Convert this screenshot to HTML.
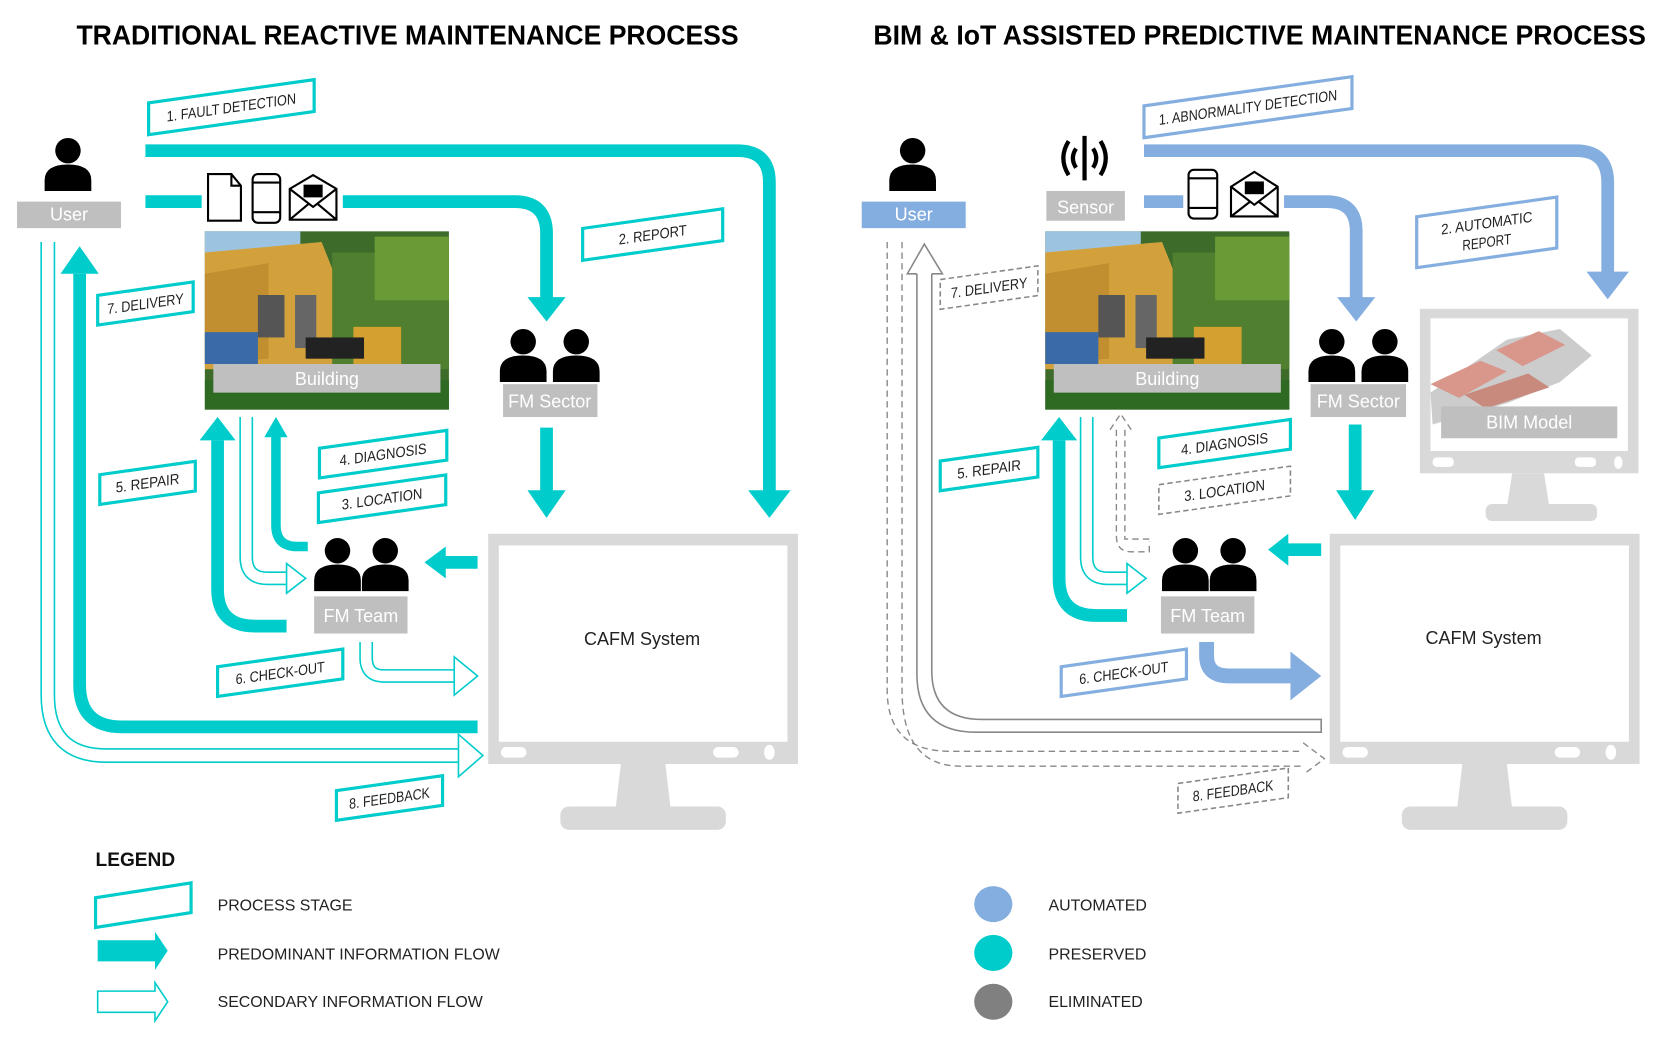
<!DOCTYPE html>
<html><head><meta charset="utf-8"><style>
html,body{margin:0;padding:0;background:#fff;}
svg{display:block;}
.t{font-family:"Liberation Sans",sans-serif;}
.lb{font-family:"Liberation Sans Narrow","Liberation Sans",sans-serif;font-size:14px;fill:#222;text-anchor:middle;}
.gl{font-family:"Liberation Sans",sans-serif;font-size:17px;fill:#fff;text-anchor:middle;}
</style></head><body>
<svg width="1664" height="1041" viewBox="0 0 1568 981" xmlns="http://www.w3.org/2000/svg">
<defs>
<g id="person"><circle cx="0" cy="0" r="12"/><path d="M-22,38 V28 Q-22,13 0,13 Q22,13 22,28 V38 Z"/></g>
<g id="photo">
<rect x="0" y="0" width="230" height="168" fill="#3d6b2a"/>
<rect x="0" y="0" width="90" height="40" fill="#9cc3e0"/>
<polygon points="0,20 110,10 130,60 140,130 0,130" fill="#d3a13c"/>
<polygon points="0,40 60,30 60,120 0,125" fill="#c18e30"/>
<rect x="50" y="60" width="25" height="40" fill="#555"/>
<rect x="85" y="60" width="20" height="50" fill="#666"/>
<rect x="120" y="20" width="110" height="110" fill="#4f7f2f"/>
<rect x="160" y="5" width="70" height="60" fill="#6a9a35"/>
<rect x="140" y="90" width="45" height="50" fill="#d4a030"/>
<rect x="95" y="100" width="55" height="20" fill="#222"/>
<rect x="0" y="95" width="50" height="30" fill="#3b6aa8"/>
<rect x="0" y="140" width="230" height="28" fill="#2f6a22"/>
</g>
<g id="monitor">
<rect x="0" y="0" width="292" height="217" fill="#d9d9d9"/>
<rect x="10" y="11" width="272" height="185" fill="#fff"/>
<rect x="12" y="201" width="24" height="10" rx="5" fill="#fff"/>
<rect x="212" y="201" width="24" height="10" rx="5" fill="#fff"/>
<ellipse cx="265" cy="206" rx="5" ry="7" fill="#fff"/>
<polygon points="125,217 167,217 172,260 120,260" fill="#d9d9d9"/>
<rect x="68" y="257" width="156" height="22" rx="8" fill="#d9d9d9"/>
</g>
</defs>

<text x="384" y="42" class="t" font-size="26" font-weight="bold" text-anchor="middle" textLength="624" lengthAdjust="spacingAndGlyphs">TRADITIONAL REACTIVE MAINTENANCE PROCESS</text>
<text x="1187" y="42" class="t" font-size="26" font-weight="bold" text-anchor="middle" textLength="728" lengthAdjust="spacingAndGlyphs">BIM &amp; IoT ASSISTED PREDICTIVE MAINTENANCE PROCESS</text>

<use href="#monitor" x="460" y="503"/>
<text x="605" y="608" class="t" font-size="17" text-anchor="middle" fill="#222">CAFM System</text>

<g fill="none" stroke-linejoin="round">
<path d="M45,228 V655 Q45,712 100,712 H434" stroke="#00cccc" stroke-width="14"/>
<path d="M45,228 V655 Q45,712 100,712 H436" stroke="#fff" stroke-width="11"/>
</g>
<polygon points="432,692 455,712 432,732" fill="#fff" stroke="#00cccc" stroke-width="1.5"/>

<g fill="none" stroke="#00cccc" stroke-width="12">
<path d="M137,142 H695 Q725,142 725,172 V464"/>
<path d="M137,190 H190"/>
<path d="M323,190 H485 Q515,190 515,220 V282"/>
<path d="M515,403 V464"/>
<path d="M450,530 H418"/>
<path d="M450,685 H115 Q75,685 75,645 V258"/>
<path d="M270,590 H240 Q205,590 205,555 V415"/>
<path d="M290,515 H280 Q260,515 260,495 V410" stroke-width="9"/>
</g>
<g fill="#00cccc">
<polygon points="705,462 745,462 725,488"/>
<polygon points="497,280 533,280 515,303"/>
<polygon points="497,462 533,462 515,488"/>
<polygon points="420,515 420,545 400,530"/>
<polygon points="57,258 93,258 75,232"/>
<polygon points="188,415 222,415 205,393"/>
<polygon points="249,412 271,412 260,393"/>
</g>
<g fill="none">
<path d="M232,393 V525 Q232,545 252,545 H272" stroke="#00cccc" stroke-width="13"/>
<path d="M232,392 V525 Q232,545 252,545 H274" stroke="#fff" stroke-width="10"/>
<path d="M345,605 V620 Q345,637 362,637 H430" stroke="#00cccc" stroke-width="13"/>
<path d="M345,604 V620 Q345,637 362,637 H432" stroke="#fff" stroke-width="10"/>
</g>
<polygon points="270,531 288,545 270,559" fill="#fff" stroke="#00cccc" stroke-width="1.5"/>
<polygon points="428,619 450,637 428,655" fill="#fff" stroke="#00cccc" stroke-width="1.5"/>

<g fill="#000"><use href="#person" x="64" y="142"/></g>
<rect x="16" y="190" width="98" height="25" fill="#bfbfbf"/><text x="65" y="208" class="gl">User</text>
<g fill="none" stroke="#000" stroke-width="2">
<path d="M196,164 H218 L227,175 V208 H196 Z M218,164 V175 H227"/>
<rect x="238" y="164" width="26" height="46" rx="5"/><line x1="238" y1="172" x2="264" y2="172"/><line x1="238" y1="200" x2="264" y2="200"/>
<path d="M273,178 L295,165 L317,178 V207 H273 Z M273,178 L295,195 L317,178 M273,207 L291,192 M317,207 L299,192"/>
</g>
<rect x="286" y="174" width="18" height="12" fill="#000"/>

<g transform="translate(193,218)"><use href="#photo"/></g>
<rect x="201" y="343" width="214" height="27" fill="#bfbfbf"/><text x="308" y="363" class="gl" font-size="19">Building</text>

<g fill="#000"><use href="#person" x="493" y="322"/><use href="#person" x="543" y="322"/></g>
<rect x="474" y="362" width="89" height="31" fill="#bfbfbf"/><text x="518" y="384" class="gl">FM Sector</text>
<g fill="#000"><use href="#person" x="318" y="519"/><use href="#person" x="363" y="519"/></g>
<rect x="296" y="562" width="88" height="35" fill="#bfbfbf"/><text x="340" y="586" class="gl">FM Team</text>

<g stroke="#00cccc" stroke-width="3" fill="#fff">
<g transform="translate(218,101) skewY(-8)"><rect x="-78" y="-15" width="156" height="30"/><text class="lb" y="5" stroke="none" textLength="122" lengthAdjust="spacingAndGlyphs">1. FAULT DETECTION</text></g>
<g transform="translate(615,221) skewY(-8)"><rect x="-66" y="-15" width="132" height="30"/><text class="lb" y="5" stroke="none" textLength="64" lengthAdjust="spacingAndGlyphs">2. REPORT</text></g>
<g transform="translate(137,286) skewY(-8)"><rect x="-45" y="-14" width="90" height="28"/><text class="lb" y="5" stroke="none" textLength="72" lengthAdjust="spacingAndGlyphs">7. DELIVERY</text></g>
<g transform="translate(139,455) skewY(-8)"><rect x="-45" y="-14" width="90" height="28"/><text class="lb" y="5" stroke="none" textLength="60" lengthAdjust="spacingAndGlyphs">5. REPAIR</text></g>
<g transform="translate(361,428) skewY(-8)"><rect x="-60" y="-14" width="120" height="28"/><text class="lb" y="5" stroke="none" textLength="82" lengthAdjust="spacingAndGlyphs">4. DIAGNOSIS</text></g>
<g transform="translate(360,470) skewY(-8)"><rect x="-60" y="-14" width="120" height="28"/><text class="lb" y="5" stroke="none" textLength="76" lengthAdjust="spacingAndGlyphs">3. LOCATION</text></g>
<g transform="translate(264,634) skewY(-8)"><rect x="-59" y="-14" width="118" height="28"/><text class="lb" y="5" stroke="none" textLength="84" lengthAdjust="spacingAndGlyphs">6. CHECK-OUT</text></g>
<g transform="translate(367,752) skewY(-8)"><rect x="-50" y="-14" width="100" height="28"/><text class="lb" y="5" stroke="none" textLength="76" lengthAdjust="spacingAndGlyphs">8. FEEDBACK</text></g>
</g>

<use href="#monitor" x="1253" y="503"/>
<text x="1398" y="607" class="t" font-size="17" text-anchor="middle" fill="#222">CAFM System</text>
<rect x="1338" y="291" width="206" height="155" fill="#d9d9d9"/>
<rect x="1348" y="300" width="186" height="125" fill="#fff"/>
<polygon points="1348,370 1420,320 1470,310 1500,335 1470,360 1420,380 1350,400" fill="#ccc"/>
<polygon points="1348,362 1395,340 1420,350 1375,375" fill="#d9968a"/>
<polygon points="1410,330 1450,312 1475,325 1435,345" fill="#d9968a"/>
<polygon points="1380,372 1440,352 1460,365 1400,385" fill="#c98a7e"/>
<rect x="1358" y="383" width="166" height="30" fill="#bfbfbf"/><text x="1441" y="404" class="gl">BIM Model</text>
<rect x="1350" y="431" width="20" height="9" rx="4" fill="#fff"/><rect x="1484" y="431" width="20" height="9" rx="4" fill="#fff"/><ellipse cx="1525" cy="436" rx="4" ry="6" fill="#fff"/>
<polygon points="1425,446 1455,446 1460,478 1420,478" fill="#d9d9d9"/>
<rect x="1400" y="475" width="105" height="16" rx="6" fill="#d9d9d9"/>

<g fill="none" stroke="#888" stroke-width="1.3" stroke-dasharray="6,4">
<path d="M836,228 V650 Q836,708 895,708 H1228"/>
<path d="M850,228 V650 Q850,722 905,722 H1228"/>
<polyline points="1228,700 1248,715 1228,730"/>
<path d="M1052,405 V505 Q1052,520 1066,520 H1083 V510"/>
<path d="M1060,405 V508 H1083"/>
<polyline points="1046,405 1056,390 1066,405"/>
</g>
<g fill="none" stroke="#888" stroke-width="1.5">
<path d="M864,258 V635 Q864,690 920,690 H1245 V678 H925 Q878,678 878,632 V258"/>
<polyline points="864,258 855,258 871,230 888,258 878,258"/>
</g>

<g fill="none" stroke="#85aee0" stroke-width="12">
<path d="M1078,142 H1485 Q1515,142 1515,172 V258"/>
<path d="M1078,190 H1115"/>
<path d="M1210,190 H1250 Q1278,190 1278,218 V282"/>
<path d="M1137,605 V618 Q1137,637 1158,637 H1218" stroke-width="14"/>
</g>
<g fill="#85aee0">
<polygon points="1495,256 1535,256 1515,282"/>
<polygon points="1260,280 1296,280 1278,303"/>
<polygon points="1216,614 1216,660 1245,637"/>
</g>
<g fill="none" stroke="#00cccc" stroke-width="12">
<path d="M1277,400 V464"/>
<path d="M1245,518 H1212"/>
<path d="M1062,580 H1033 Q998,580 998,545 V415"/>
</g>
<g fill="#00cccc">
<polygon points="1259,462 1295,462 1277,490"/>
<polygon points="1214,503 1214,533 1195,518"/>
<polygon points="981,415 1015,415 998,393"/>
</g>
<g fill="none">
<path d="M1024,393 V525 Q1024,545 1044,545 H1064" stroke="#00cccc" stroke-width="13"/>
<path d="M1024,392 V525 Q1024,545 1044,545 H1066" stroke="#fff" stroke-width="10"/>
</g>
<polygon points="1062,531 1080,545 1062,559" fill="#fff" stroke="#00cccc" stroke-width="1.5"/>

<g fill="#000"><use href="#person" x="860" y="142"/></g>
<rect x="812" y="190" width="98" height="25" fill="#85aee0"/><text x="861" y="208" class="gl">User</text>
<g fill="none" stroke="#000" stroke-width="4">
<line x1="1022" y1="128" x2="1022" y2="170"/>
<path d="M1014,140 Q1008,149 1014,158 M1030,140 Q1036,149 1030,158"/>
<path d="M1007,133 Q997,149 1007,165 M1037,133 Q1047,149 1037,165"/>
</g>
<rect x="986" y="180" width="74" height="28" fill="#bfbfbf"/><text x="1023" y="201" class="gl" font-size="19">Sensor</text>
<g fill="none" stroke="#000" stroke-width="2">
<rect x="1120" y="160" width="27" height="46" rx="5"/><line x1="1120" y1="168" x2="1147" y2="168"/><line x1="1120" y1="196" x2="1147" y2="196"/>
<path d="M1160,176 L1182,162 L1204,176 V204 H1160 Z M1160,176 L1182,193 L1204,176 M1160,204 L1178,190 M1204,204 L1186,190"/>
</g>
<rect x="1173" y="171" width="18" height="12" fill="#000"/>

<g transform="translate(985,218)"><use href="#photo"/></g>
<rect x="993" y="343" width="214" height="27" fill="#bfbfbf"/><text x="1100" y="363" class="gl" font-size="19">Building</text>
<g fill="#000"><use href="#person" x="1255" y="322"/><use href="#person" x="1305" y="322"/></g>
<rect x="1235" y="362" width="90" height="31" fill="#bfbfbf"/><text x="1280" y="384" class="gl">FM Sector</text>
<g fill="#000"><use href="#person" x="1117" y="519"/><use href="#person" x="1162" y="519"/></g>
<rect x="1094" y="562" width="88" height="35" fill="#bfbfbf"/><text x="1138" y="586" class="gl">FM Team</text>

<g stroke-width="3" fill="#fff">
<g transform="translate(1176,101) skewY(-8)" stroke="#85aee0"><rect x="-98" y="-15" width="196" height="30"/><text class="lb" y="5" stroke="none" textLength="168" lengthAdjust="spacingAndGlyphs">1. ABNORMALITY DETECTION</text></g>
<g transform="translate(1401,219) skewY(-8)" stroke="#85aee0"><rect x="-66" y="-24" width="132" height="48"/><text class="lb" y="-4" stroke="none" textLength="86" lengthAdjust="spacingAndGlyphs">2. AUTOMATIC</text><text class="lb" y="14" stroke="none" textLength="46" lengthAdjust="spacingAndGlyphs">REPORT</text></g>
<g transform="translate(932,271) skewY(-8)" stroke="#888" stroke-width="1.5" stroke-dasharray="5,3"><rect x="-46" y="-14" width="92" height="28"/><text class="lb" y="5" stroke="none" textLength="72" lengthAdjust="spacingAndGlyphs">7. DELIVERY</text></g>
<g transform="translate(932,442) skewY(-8)" stroke="#00cccc"><rect x="-46" y="-14" width="92" height="28"/><text class="lb" y="5" stroke="none" textLength="60" lengthAdjust="spacingAndGlyphs">5. REPAIR</text></g>
<g transform="translate(1154,418) skewY(-8)" stroke="#00cccc"><rect x="-62" y="-14" width="124" height="28"/><text class="lb" y="5" stroke="none" textLength="82" lengthAdjust="spacingAndGlyphs">4. DIAGNOSIS</text></g>
<g transform="translate(1154,462) skewY(-8)" stroke="#888" stroke-width="1.5" stroke-dasharray="5,3"><rect x="-62" y="-14" width="124" height="28"/><text class="lb" y="5" stroke="none" textLength="76" lengthAdjust="spacingAndGlyphs">3. LOCATION</text></g>
<g transform="translate(1059,634) skewY(-8)" stroke="#85aee0"><rect x="-59" y="-14" width="118" height="28"/><text class="lb" y="5" stroke="none" textLength="84" lengthAdjust="spacingAndGlyphs">6. CHECK-OUT</text></g>
<g transform="translate(1162,745) skewY(-8)" stroke="#888" stroke-width="1.5" stroke-dasharray="5,3"><rect x="-52" y="-14" width="104" height="28"/><text class="lb" y="5" stroke="none" textLength="76" lengthAdjust="spacingAndGlyphs">8. FEEDBACK</text></g>
</g>

<text x="90" y="816" class="t" font-size="18" font-weight="bold" fill="#111">LEGEND</text>
<polygon points="90,846 180,832 180,860 90,874" fill="#fff" stroke="#00cccc" stroke-width="3"/>
<polygon points="92,886 146,886 146,878 158,896 146,914 146,906 92,906" fill="#00cccc"/>
<polygon points="92,934 146,934 146,926 158,944 146,962 146,954 92,954" fill="#fff" stroke="#00cccc" stroke-width="1.5"/>
<g class="t" font-size="15" fill="#222">
<text x="205" y="858">PROCESS STAGE</text>
<text x="205" y="904">PREDOMINANT INFORMATION FLOW</text>
<text x="205" y="949">SECONDARY INFORMATION FLOW</text>
<text x="988" y="858">AUTOMATED</text>
<text x="988" y="904">PRESERVED</text>
<text x="988" y="949">ELIMINATED</text>
</g>
<ellipse cx="936" cy="852" rx="18" ry="17" fill="#85aee0"/>
<ellipse cx="936" cy="898" rx="18" ry="17" fill="#00cccc"/>
<ellipse cx="936" cy="944" rx="18" ry="17" fill="#808080"/>
</svg>
</body></html>
